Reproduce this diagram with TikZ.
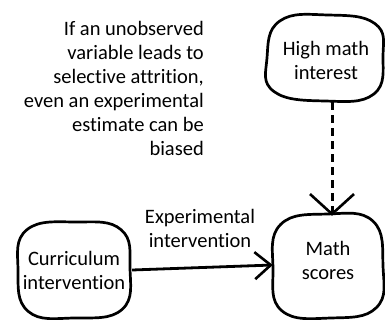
\documentclass[tikz,border=0pt]{standalone}
\usepackage{fontspec}
\setmainfont[Ligatures={NoCommon}]{Carlito}
\usetikzlibrary{arrows.meta}
\begin{document}
\begin{tikzpicture}[x=1pt,y=1pt,
  txt/.style={align=center, font=\fontsize{20.5}{24}\selectfont, inner sep=0pt},
  blob/.style={line width=2.7pt, line join=round},
  arr/.style={line width=2.8pt, -{Straight Barb[length=16pt, width=27pt, line width=2.6pt]}},
  dsh/.style={line width=3pt, dash pattern=on 8pt off 5pt}
]
\useasboundingbox (0,0) rectangle (385,-320);
% blobs
\draw[blob, shift={(325,-58)}, xscale=58, yscale=43]
  plot[smooth cycle, tension=0.75] coordinates {(1,0.05) (0.86,0.8) (0.05,1) (-0.78,0.86) (-1,0.0) (-0.88,-0.78) (0.0,-1) (0.84,-0.84)};
\draw[blob, shift={(328,-266)}, xscale=55, yscale=52]
  plot[smooth cycle, tension=0.75] coordinates {(1,0.0) (0.82,0.86) (0.0,1) (-0.86,0.8) (-1,-0.05) (-0.84,-0.86) (0.05,-1) (0.88,-0.8)};
\draw[blob, shift={(74,-270)}, xscale=56, yscale=48]
  plot[smooth cycle, tension=0.75] coordinates {(1,0.05) (0.84,0.84) (0.05,1) (-0.84,0.84) (-1,0.0) (-0.82,-0.86) (0.0,-1) (0.86,-0.82)};
% nodes
\node[txt, minimum width=116pt, minimum height=86pt] (hmi) at (326,-60) {High math\\interest};
\node[txt, minimum width=110pt, minimum height=104pt] (ms) at (328,-260) {Math\\scores};
\node[txt, minimum width=112pt, minimum height=96pt] (cur) at (74,-270) {Curriculum\\intervention};
\node[txt, anchor=north east, align=right] (note) at (204,-21)
  {If an unobserved\\variable leads to\\selective attrition,\\even an experimental\\estimate can be\\biased};
\node[txt] (lab) at (200,-228) {Experimental\\intervention};
% connectors
\draw[arr] ([xshift=2pt]cur.east) -- ([yshift=-5pt]ms.west);
\draw[dsh] ([xshift=6pt,yshift=1pt]hmi.south) -- ([xshift=4pt,yshift=-8pt]ms.north);
\draw[line width=2.8pt, -{Straight Barb[length=20pt, width=44pt, line width=2.6pt]}] ([xshift=4pt,yshift=-4pt]ms.north) -- ([xshift=4pt,yshift=-8pt]ms.north);
\end{tikzpicture}
\end{document}
